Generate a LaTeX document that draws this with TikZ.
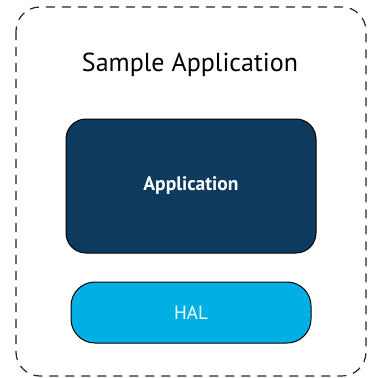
\documentclass[tikz,border=0pt]{standalone}
\usepackage{fontspec}
\setmainfont{PT Sans}
\definecolor{navy}{HTML}{0D3A5D}
\definecolor{halblue}{HTML}{00B0E4}
\begin{document}
\begin{tikzpicture}[x=1pt,y=-1pt,
  outerbox/.style={draw=black!85, line width=1.2pt, dash pattern=on 9pt off 7pt, rounded corners=24pt},
  appbox/.style={draw=black, line width=1pt, fill=navy, rounded corners=20pt, minimum width=250pt, minimum height=134pt, text=white, font=\bfseries\fontsize{19.5}{23}\selectfont},
  halbox/.style={draw=black, line width=1pt, fill=halblue, rounded corners=24pt, minimum width=240pt, minimum height=61pt, text=white, font=\fontsize{19}{22}\selectfont}]
\useasboundingbox (0,0) rectangle (368,378);
\draw[outerbox] (16,7) rectangle (366,376);
\node (title) at (190,65) {\fontsize{26}{30}\selectfont Sample Application};
\node[appbox] (app) at (191,186) {Application};
\node[halbox] (hal) at (191,312.5) {HAL};
\end{tikzpicture}
\end{document}
